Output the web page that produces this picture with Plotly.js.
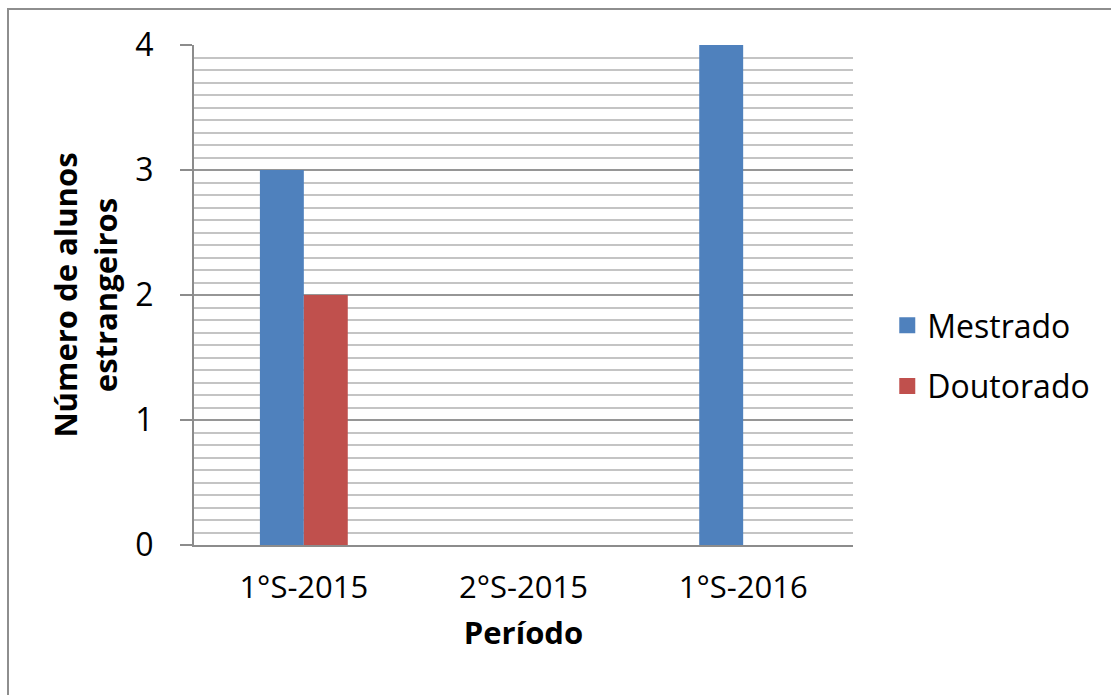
<!DOCTYPE html>
<html>
<head>
<meta charset="utf-8">
<script src="https://cdn.plot.ly/plotly-3.0.1.min.js"></script>
<style>
html,body{margin:0;padding:0;background:#fff;}
#wrap{position:relative;width:1111px;height:695px;overflow:hidden;}
#chart{position:absolute;left:0;top:0;width:1111px;height:695px;}
#frame{position:absolute;left:7px;top:8px;width:1200px;height:800px;border-left:2px solid #8e8e8e;border-top:2px solid #8e8e8e;pointer-events:none;}
</style>
</head>
<body>
<div id="wrap"><div id="chart"></div><div id="frame"></div></div>
<script>
const categories = ["1°S-2015", "2°S-2015", "1°S-2016"];
const mestrado = [3, 0, 4];
const doutorado = [2, 0, 0];
const seriesNames = ["Mestrado", "Doutorado"];
const seriesColors = ["#4F81BD", "#C0504D"];
const yTickVals = [0, 1, 2, 3, 4];
const yTickText = ["0", "1", "2", "3", "4"];
const xTitle = "Período";
const yTitle = "Número de alunos<br>estrangeiros";

const FONT = "Open Sans, Noto Sans, sans-serif";

const traces = [
  {type: "bar", name: seriesNames[0], x: categories, y: mestrado,
   marker: {color: seriesColors[0], line: {width: 0}}, showlegend: false},
  {type: "bar", name: seriesNames[1], x: categories, y: doutorado,
   marker: {color: seriesColors[1], line: {width: 0}}, showlegend: false},
  // legend entries (no visible data), larger square swatches
  {type: "scatter", mode: "markers", name: seriesNames[0], x: [null], y: [null],
   marker: {symbol: "square", size: 21, color: seriesColors[0], line: {width: 0}},
   legendgroup: "a", hoverinfo: "skip"},
  {type: "scatter", mode: "markers", name: seriesNames[1], x: [null], y: [null],
   marker: {symbol: "square", size: 21, color: seriesColors[1], line: {width: 0}},
   legendgroup: "b", hoverinfo: "skip"}
];

const layout = {
  width: 1111, height: 695,
  margin: {l: 194, r: 258, t: 45, b: 150, pad: 0},
  paper_bgcolor: "#ffffff", plot_bgcolor: "#ffffff",
  barmode: "group", bargap: 0.6, bargroupgap: 0,
  font: {family: FONT, color: "#000"},
  showlegend: true,
  legend: {x: 1.052, xanchor: "left", y: 0.378, yanchor: "middle",
           font: {family: FONT, size: 32, color: "#000"},
           itemsizing: "trace",
           traceorder: "grouped", tracegroupgap: 16,
           bgcolor: "rgba(0,0,0,0)"},
  xaxis: {
    type: "category", showgrid: false, zeroline: false,
    showline: true, linecolor: "#8c8c8c", linewidth: 2,
    ticks: "", tickfont: {family: FONT, size: 31, color: "#000"},
    ticklabelstandoff: 14,
    title: {text: xTitle, font: {family: FONT, size: 31, color: "#000", weight: "bold"}, standoff: 16},
    automargin: false, fixedrange: true
  },
  yaxis: {
    range: [0, 4], tickvals: yTickVals, ticktext: yTickText,
    showgrid: true, gridcolor: "#969696", gridwidth: 2,
    zeroline: false, showline: true, linecolor: "#8c8c8c", linewidth: 2,
    ticks: "outside", ticklen: 12, tickwidth: 2, tickcolor: "#8c8c8c",
    tickfont: {family: FONT, size: 32, color: "#000"},
    ticklabelstandoff: 20,
    minor: {dtick: 0.1, showgrid: true, gridcolor: "#c4c4c4", gridwidth: 2, ticks: ""},
    title: {text: yTitle, font: {family: FONT, size: 31, color: "#000", weight: "bold"}, standoff: 8},
    automargin: false, fixedrange: true
  }
};

Plotly.newPlot("chart", traces, layout, {displayModeBar: false, staticPlot: true});
</script>
</body>
</html>
